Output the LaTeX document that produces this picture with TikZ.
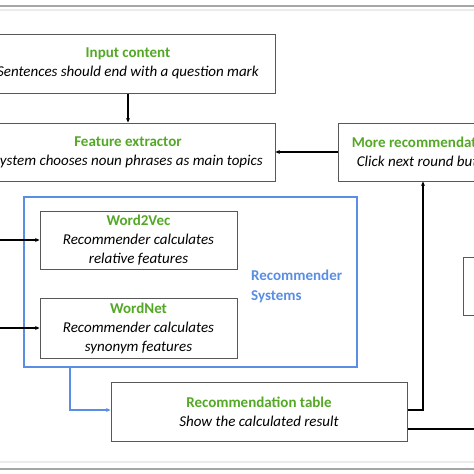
\documentclass[tikz,border=0pt]{standalone}
\usepackage{fontspec}
\setmainfont{Carlito}
\usetikzlibrary{arrows.meta,calc}
\definecolor{tgreen}{RGB}{84,168,38}
\definecolor{tblue}{RGB}{90,142,228}
\definecolor{tgray}{RGB}{88,88,88}
\tikzset{
  box/.style={draw=tgray,line width=1pt,fill=white,align=center,inner sep=0pt,
    font=\fontsize{15}{19}\selectfont},
  arr/.style={draw=black,line width=1.1pt,-{Stealth[length=4.5pt,width=4pt]}},
  barr/.style={draw=tblue,line width=1.1pt,-{Stealth[length=4.5pt,width=4pt]}},
}
\newcommand{\ttlt}[1]{\textcolor{tgreen}{\textbf{#1}}}
\begin{document}
\begin{tikzpicture}[x=1pt,y=-1pt]
\useasboundingbox (0,0) rectangle (474,474);
\clip (0,0) rectangle (474,474);
\fill[white] (0,0) rectangle (474,474);
% frame lines
\draw[color=black!35,line width=1.3pt] (0,6) -- (474,6);
\draw[color=black!8,line width=2pt] (0,10) -- (474,10);
\draw[color=black!8,line width=2pt] (0,462) -- (474,462);
\draw[color=black!35,line width=1.3pt] (0,469) -- (474,469);
% blue group
\node[draw=tblue,line width=1.1pt,minimum width=333pt,minimum height=170pt,inner sep=0pt] (sys) at (190.5,282) {};
\node[anchor=west,align=left,text=tblue,font=\fontsize{15}{20}\selectfont\bfseries,inner sep=0pt] (syslbl) at (251,286) {Recommender\\Systems};
% boxes
\node[box,minimum width=294pt,minimum height=59pt] (in) at (128,63.5)
  {\ttlt{Input content}\\\textit{Sentences should end with a question mark}};
\node[box,minimum width=294pt,minimum height=58pt] (fe) at (128,152)
  {\ttlt{Feature extractor}\\\textit{System chooses noun phrases as main topics}};
\node[box,minimum width=178pt,minimum height=58pt] (more) at (427,152)
  {\ttlt{More recommendations}\\\textit{Click next round button}};
\node[box,minimum width=197pt,minimum height=58pt] (w2v) at (138.5,240)
  {\ttlt{Word2Vec}\\\textit{Recommender calculates}\\\textit{relative features}};
\node[box,minimum width=197pt,minimum height=60pt] (wn) at (138.5,328)
  {\ttlt{WordNet}\\\textit{Recommender calculates}\\\textit{synonym features}};
\node[box,minimum width=296pt,minimum height=59pt] (rec) at (259,411.5)
  {\ttlt{Recommendation table}\\\textit{Show the calculated result}};
\node[box,minimum width=120pt,minimum height=58pt,anchor=north west] (right) at (463,257) {};
% free ends
\coordinate (lw) at (-5,240);
\coordinate (ln) at (-5,328);
\coordinate (re) at (490,429);
\coordinate (bs) at (70,367);
% connectors
\draw[arr] (in) -- (fe);
\draw[arr] (more) -- (fe);
\draw[arr] (lw) -- (w2v.west);
\draw[arr] (ln) -- (wn.west);
\draw[barr] (bs) |- ([yshift=1.5pt]rec.west);
\draw[arr] ([yshift=1.5pt]rec.east) -| ([xshift=-4pt]more.south);
\draw[line width=1.1pt] ([yshift=-17.5pt]rec.east) -- (re);
\end{tikzpicture}
\end{document}
